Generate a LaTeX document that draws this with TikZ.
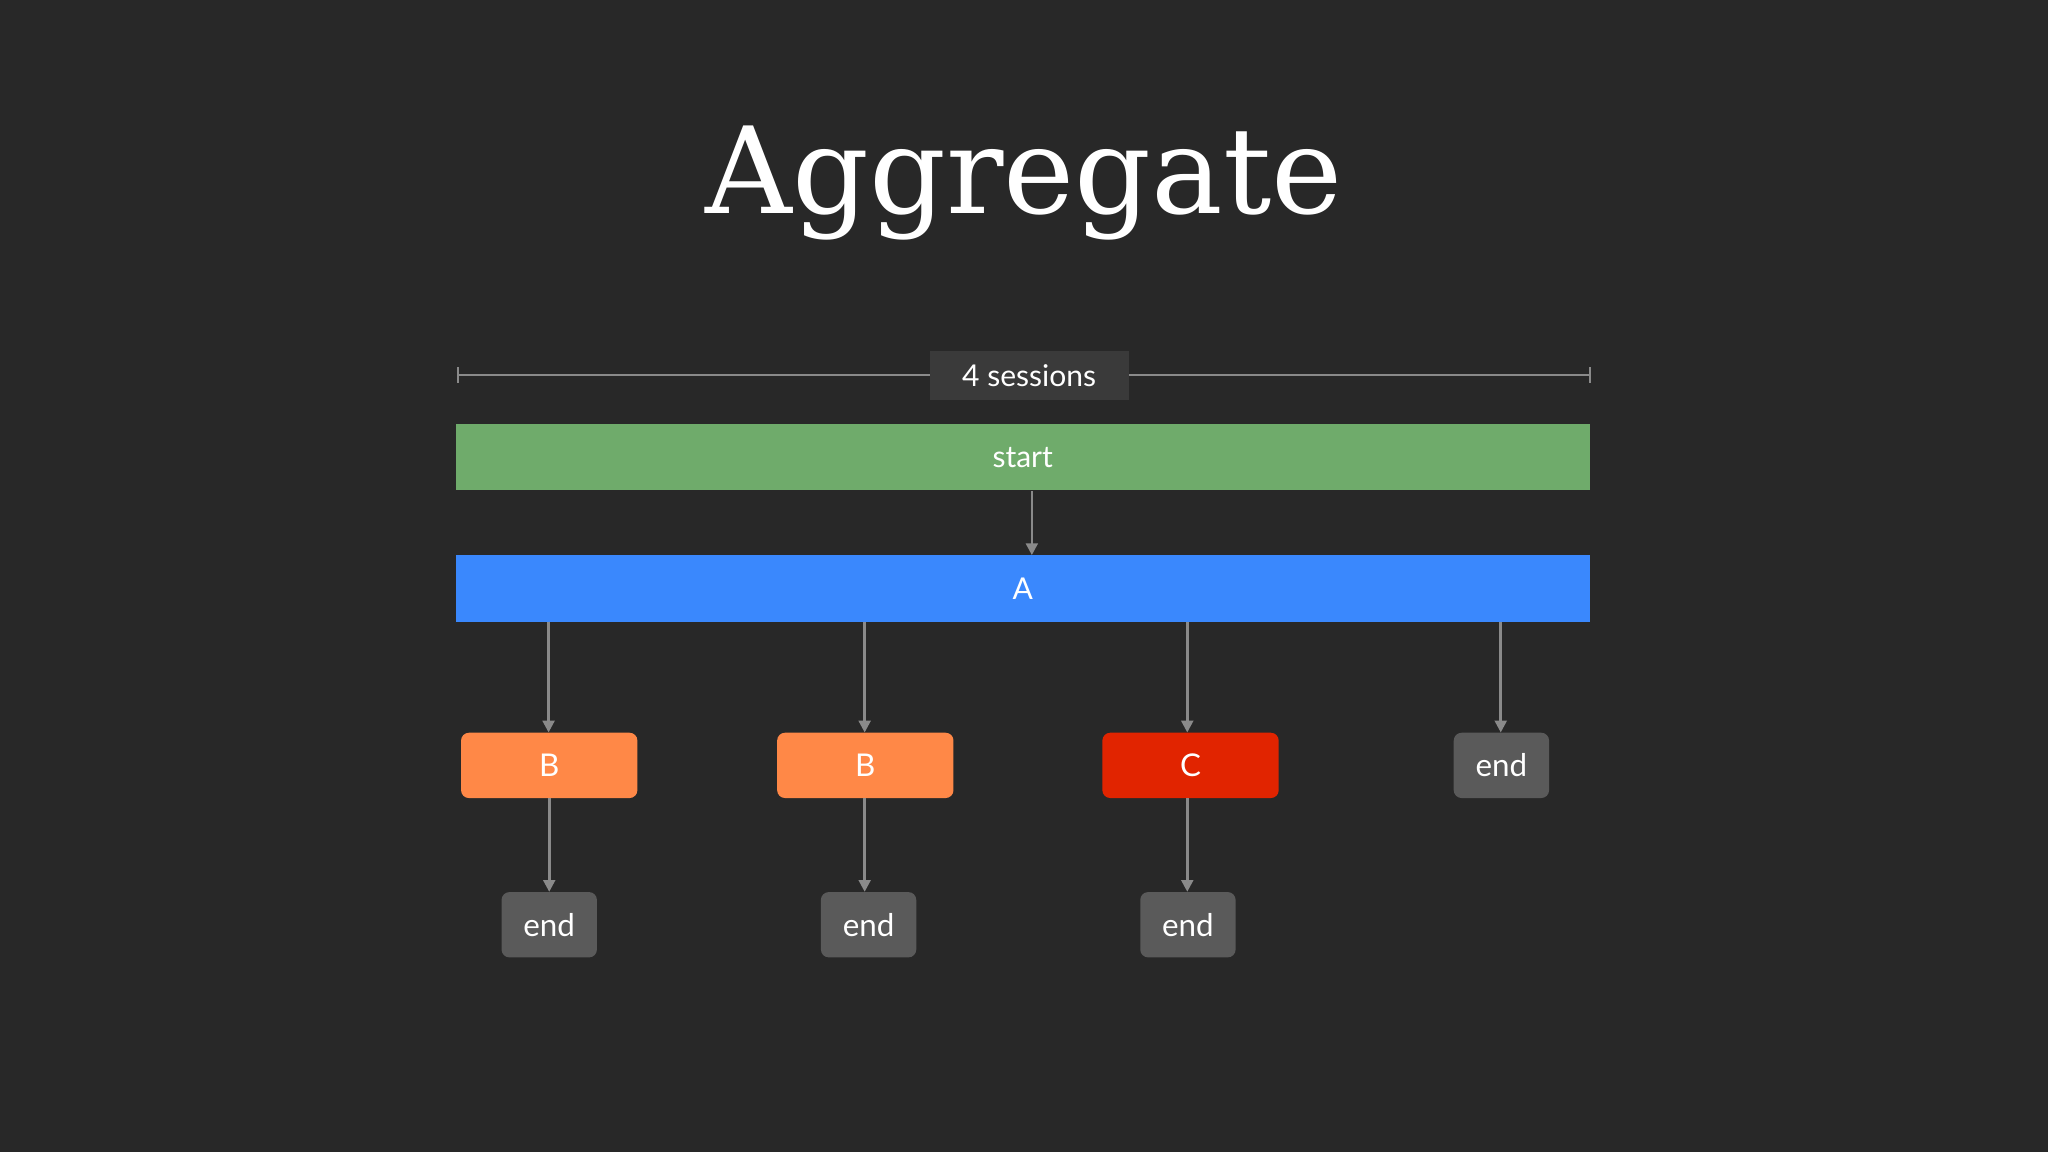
\documentclass[tikz,border=0pt]{standalone}
\usepackage{fontspec}
\setmainfont{Lato}
\newfontfamily\titlefont{DejaVu Serif}
\usetikzlibrary{arrows.meta}
\definecolor{bg}{HTML}{282828}
\definecolor{grn}{HTML}{6FAB6B}
\definecolor{blu}{HTML}{3A88FD}
\definecolor{org}{HTML}{FF8847}
\definecolor{rd}{HTML}{E12400}
\definecolor{gry}{HTML}{5A5A5A}
\definecolor{lbl}{HTML}{3A3A3A}
\definecolor{ln}{HTML}{8A8A8A}
\tikzset{
 bar/.style={minimum width=868pt,minimum height=51pt,inner sep=0pt,text=white,font=\fontsize{23}{23}\selectfont},
 box/.style={rounded corners=6pt,minimum width=135pt,minimum height=50pt,inner sep=0pt,text=white,font=\fontsize{24}{24}\selectfont},
 endbox/.style={box,fill=gry,minimum width=73pt},
 arr/.style={draw=ln,line width=2pt,-{Triangle[width=9pt,length=9pt]}}
}
\begin{document}
\begin{tikzpicture}[x=1pt,y=-1pt]
\fill[bg] (0,0) rectangle (1568,882);
\useasboundingbox (0,0) rectangle (1568,882);
\node[text=white,font=\titlefont\fontsize{92}{92}\selectfont] (title) at (784,140) {Aggregate};
\coordinate (l) at (351,287); \coordinate (r) at (1217,287);
\draw[ln,line width=1.5pt] (l) -- (r);
\draw[ln,line width=1.5pt] (351,281) -- (351,293) (1217,281) -- (1217,293);
\node[fill=lbl,minimum width=152pt,minimum height=37pt,text=white,font=\fontsize{23}{23}\selectfont] (sess) at (788,287.5) {4 sessions};
\node[bar,fill=grn] (start) at (783,350) {start};
\node[bar,fill=blu] (A) at (783,450.5) {A};
\draw[arr] (790,376) -- (790,425);
\node[box,fill=org] (B1) at (420.5,586) {B};
\node[box,fill=org] (B2) at (662.5,586) {B};
\node[box,fill=rd] (C) at (911.5,586) {C};
\node[endbox] (E4) at (1149.5,586) {end};
\node[endbox] (E1) at (420.5,708) {end};
\node[endbox] (E2) at (665,708) {end};
\node[endbox] (E3) at (909.5,708) {end};
\draw[arr] (420,476) -- (B1.north -| 420,0);
\draw[arr] (662,476) -- (B2.north -| 662,0);
\draw[arr] (909,476) -- (C.north -| 909,0);
\draw[arr] (1149,476) -- (E4.north -| 1149,0);
\draw[arr] (B1.south) -- (E1.north -| B1.south);
\draw[arr] (B2.south -| 662,0) -- (E2.north -| 662,0);
\draw[arr] (C.south -| 909,0) -- (E3.north -| 909,0);
\end{tikzpicture}
\end{document}
